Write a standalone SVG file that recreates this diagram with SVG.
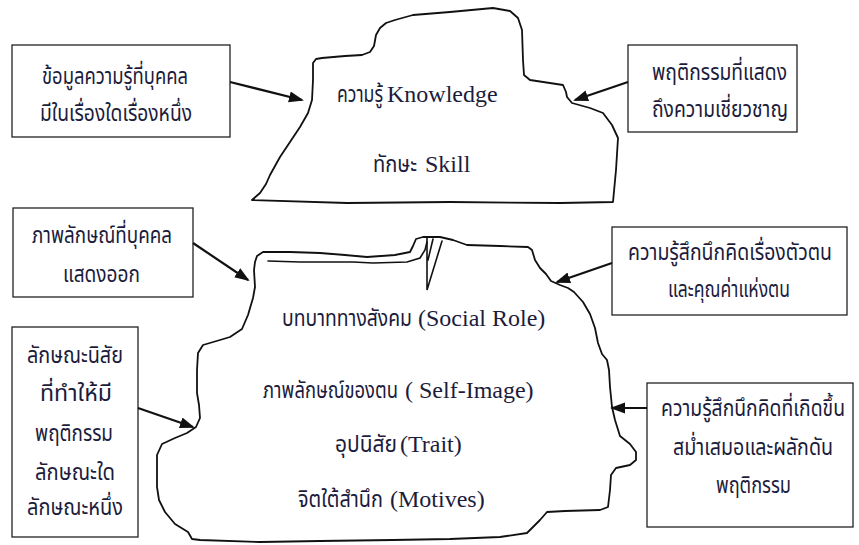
<svg xmlns="http://www.w3.org/2000/svg" width="859" height="545" viewBox="0 0 859 545">
<defs>
<style>
.box{fill:#fff;stroke:#222;stroke-width:1.3}
.ice{fill:#fff;stroke:#111;stroke-width:1.8;stroke-linejoin:round;stroke-linecap:round}
.thin{fill:none;stroke:#111;stroke-width:1.6;stroke-linecap:round}
.th{font-family:"Noto Sans Thai","Tahoma","DejaVu Sans","Liberation Sans",sans-serif;font-size:23px;fill:#1c1c3c}
.en{font-family:"Liberation Serif","Times New Roman",serif;font-size:24px;fill:#1c1c3c}
.con{fill:none;stroke:#111;stroke-width:2.2}
</style>
<marker id="ah" markerUnits="userSpaceOnUse" markerWidth="16" markerHeight="12" refX="13" refY="5.5" orient="auto">
<path d="M0,0 L15,5.5 L0,11 Z" fill="#111"/>
</marker>
</defs>

<g id="iceberg-top">
<path class="ice" d="M252,200 L260,193 L266,184 L270,175 L280,157 L290,142 L300,127 L308,113 L312,100 L313,80 L313,63 L316,59 L322,58 L345,56 L362,55 L370,52 L374,46 L376,35 L380,28 L386,23 L395,20 L413,15 L450,12 L493,8 L510,11 L518,18 L522,30 L523,60 L524,75 L530,80 L563,85 L566,92 L567,97 L572,103 L590,108 L603,113 L612,125 L618,138 L616,170 L613,202 L560,203 L450,202 L347,203 Z"/>
<text y="102"><tspan class="th" x="337" textLength="46" lengthAdjust="spacingAndGlyphs">ความรู้</tspan><tspan class="en" x="387">Knowledge</tspan></text>
<text y="172"><tspan class="th" x="373" textLength="44" lengthAdjust="spacingAndGlyphs">ทักษะ</tspan><tspan class="en" x="425">Skill</tspan></text>
</g>

<g id="iceberg-bottom">
<path class="ice" d="M257,256 L263,252 L290,252 L320,253 L345,255 L367,257 L395,255 L410,252 L413,246 L416,239 L423,237 L440,237 L453,240 L467,245 L500,246 L528,247 L532,250 L535,260 L540,268 L546,274 L551,281 L560,285 L568,288 L574,292 L583,302 L590,314 L595,328 L598,343 L602,354 L607,360 L609,370 L610,387 L612,407 L615,420 L620,436 L630,444 L636,452 L636,460 L630,465 L616,468 L611,475 L610,490 L608,507 L600,510 L565,511 L547,512 L540,520 L527,533 L500,537 L450,539 L393,540 L320,541 L260,542 L200,540 L192,539 L188,532 L175,524 L165,512 L159,500 L157,487 L157,470 L157,455 L162,444 L175,438 L187,433 L196,427 L200,418 L199,405 L197,393 L197,370 L198,353 L203,345 L220,340 L230,337 L242,329 L248,315 L253,298 L255,287 L254,270 L255,262 Z"/>
<path class="thin" d="M268,261 L300,262 L353,262 L373,263 L407,262 L420,258 L425,250 L427,242"/>
<path class="thin" d="M427,238 L427,290 L442,241 M433,239 L428,260"/>
<text y="326"><tspan class="th" x="282" textLength="130" lengthAdjust="spacingAndGlyphs">บทบาททางสังคม</tspan><tspan class="en" x="418">(Social Role)</tspan></text>
<text y="398"><tspan class="th" x="263" textLength="135" lengthAdjust="spacingAndGlyphs">ภาพลักษณ์ของตน</tspan><tspan class="en" x="405">( Self-Image)</tspan></text>
<text y="452"><tspan class="th" x="335" textLength="62" lengthAdjust="spacingAndGlyphs">อุปนิสัย</tspan><tspan class="en" x="400">(Trait)</tspan></text>
<text y="507"><tspan class="th" x="298" textLength="85" lengthAdjust="spacingAndGlyphs">จิตใต้สำนึก</tspan><tspan class="en" x="390">(Motives)</tspan></text>
</g>

<g id="box-knowledge">
<rect class="box" x="12" y="45" width="218" height="92"/>
<text class="th" x="42" y="84" textLength="146" lengthAdjust="spacingAndGlyphs">ข้อมูลความรู้ที่บุคคล</text>
<text class="th" x="40" y="121" textLength="152" lengthAdjust="spacingAndGlyphs">มีในเรื่องใดเรื่องหนึ่ง</text>
</g>

<g id="box-skill">
<rect class="box" x="628" y="45" width="169" height="87"/>
<text class="th" x="652" y="80" textLength="135" lengthAdjust="spacingAndGlyphs">พฤติกรรมที่แสดง</text>
<text class="th" x="652" y="117" textLength="136" lengthAdjust="spacingAndGlyphs">ถึงความเชี่ยวชาญ</text>
</g>

<g id="box-social-role">
<rect class="box" x="13" y="208" width="180" height="89"/>
<text class="th" x="32" y="243" textLength="140" lengthAdjust="spacingAndGlyphs">ภาพลักษณ์ที่บุคคล</text>
<text class="th" x="63" y="282" textLength="77" lengthAdjust="spacingAndGlyphs">แสดงออก</text>
</g>

<g id="box-self-image">
<rect class="box" x="612" y="227" width="235" height="88"/>
<text class="th" x="628" y="260" textLength="204" lengthAdjust="spacingAndGlyphs">ความรู้สึกนึกคิดเรื่องตัวตน</text>
<text class="th" x="668" y="297" textLength="122" lengthAdjust="spacingAndGlyphs">และคุณค่าแห่งตน</text>
</g>

<g id="box-trait">
<rect class="box" x="12" y="327" width="126" height="210"/>
<text class="th" x="27" y="363" textLength="96" lengthAdjust="spacingAndGlyphs">ลักษณะนิสัย</text>
<text class="th" x="40" y="401" textLength="72" lengthAdjust="spacingAndGlyphs">ที่ทำให้มี</text>
<text class="th" x="35" y="441" textLength="78" lengthAdjust="spacingAndGlyphs">พฤติกรรม</text>
<text class="th" x="35" y="480" textLength="80" lengthAdjust="spacingAndGlyphs">ลักษณะใด</text>
<text class="th" x="27" y="515" textLength="96" lengthAdjust="spacingAndGlyphs">ลักษณะหนึ่ง</text>
</g>

<g id="box-motives">
<rect class="box" x="647" y="383" width="206" height="144"/>
<text class="th" x="661" y="416" textLength="184" lengthAdjust="spacingAndGlyphs">ความรู้สึกนึกคิดที่เกิดขึ้น</text>
<text class="th" x="673" y="455" textLength="160" lengthAdjust="spacingAndGlyphs">สม่ำเสมอและผลักดัน</text>
<text class="th" x="716" y="493" textLength="75" lengthAdjust="spacingAndGlyphs">พฤติกรรม</text>
</g>

<g id="connectors">
<line class="con" x1="230" y1="82" x2="302" y2="100" marker-end="url(#ah)"/>
<line class="con" x1="628" y1="82" x2="575" y2="100" marker-end="url(#ah)"/>
<line class="con" x1="193" y1="243" x2="248" y2="280" marker-end="url(#ah)"/>
<line class="con" x1="612" y1="263" x2="557" y2="282" marker-end="url(#ah)"/>
<line class="con" x1="138" y1="408" x2="193" y2="427" marker-end="url(#ah)"/>
<line class="con" x1="647" y1="408" x2="612" y2="408" marker-end="url(#ah)"/>
</g>
</svg>
